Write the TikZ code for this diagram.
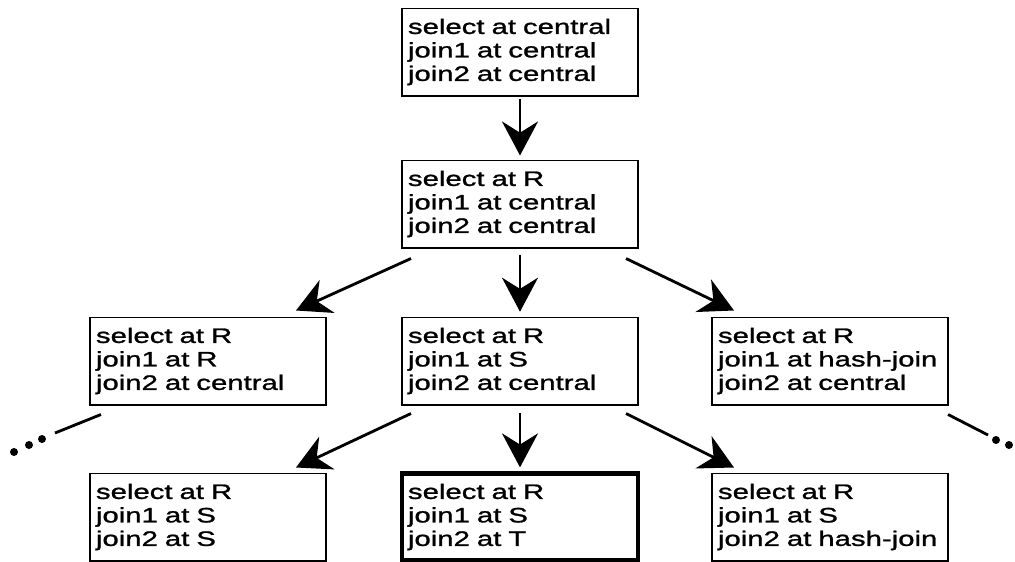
\documentclass[tikz,border=0pt]{standalone}
\usepackage{fontspec}
\setmainfont{Liberation Sans}[FakeStretch=1.4,FakeBold=1.2]
\usetikzlibrary{positioning,arrows.meta,calc}

\begin{document}
\begin{tikzpicture}[x=0.025cm,y=-0.025cm,
      plan/.style={draw,line width=1.4pt,minimum width=5.9cm,minimum height=2.175cm,
                   text width=5.6cm,inner xsep=0.15cm,inner ysep=0pt,align=left,
                   font=\fontsize{14.9}{16.7}\selectfont},
      best/.style={plan,line width=3pt},
      move/.style={-{Stealth[length=0.85cm,width=0.9cm,inset=0.28cm]},line width=2pt},
      trail/.style={line width=2pt},
      elldot/.style={circle,fill,inner sep=0pt,minimum size=0.2cm}]
    \useasboundingbox (0,0) rectangle (1015,561);
    % plan states
    \node[plan] (p0) at (520,52)    {select at central\\join1 at central\\join2 at central};
    \node[plan] (p1) at (520,204)   {select at R\\join1 at central\\join2 at central};
    \node[plan] (p2a) at (208,361)  {select at R\\join1 at R\\join2 at central};
    \node[plan] (p2b) at (520,361)  {select at R\\join1 at S\\join2 at central};
    \node[plan] (p2c) at (830,361)  {select at R\\join1 at hash-join\\join2 at central};
    \node[plan] (p3a) at (208,517)  {select at R\\join1 at S\\join2 at S};
    \node[best] (p3b) at (520,517)  {select at R\\join1 at S\\join2 at T};
    \node[plan] (p3c) at (830,517)  {select at R\\join1 at S\\join2 at hash-join};
    % moves
    \draw[move,shorten <=0.05cm,shorten >=0.1cm] (p0.south) -- (p1.north);
    \draw[move] ($(p1.south west)+(10,10)$) -- ($(p2a.north east)+(-31,-6)$);
    \draw[move,shorten <=0.15cm,shorten >=0.12cm] (p1.south) -- (p2b.north);
    \draw[move] ($(p1.south east)+(-13,10)$) -- ($(p2c.north west)+(23,-6)$);
    \draw[move] ($(p2b.south west)+(10,8)$) -- ($(p3a.north east)+(-31,-5)$);
    \draw[move,shorten <=0.18cm,shorten >=0.1cm] (p2b.south) -- (p3b.north);
    \draw[move] ($(p2b.south east)+(-13,8)$) -- ($(p3c.north west)+(23,-5)$);
    % more states off to the sides
    \coordinate (lend) at (55,433);
    \coordinate (rend) at (988,435);
    \draw[trail] ($(p2a.south west)+(12,9)$) -- (lend);
    \draw[trail] ($(p2c.south east)+(-1,9)$) -- (rend);
    \node[elldot] (l1) at (42,439) {};
    \node[elldot] (l2) at (29,445) {};
    \node[elldot] (l3) at (14,452) {};
    \node[elldot] (r1) at (996,440) {};
    \node[elldot] (r2) at (1009,445) {};
  \end{tikzpicture}
\end{document}
